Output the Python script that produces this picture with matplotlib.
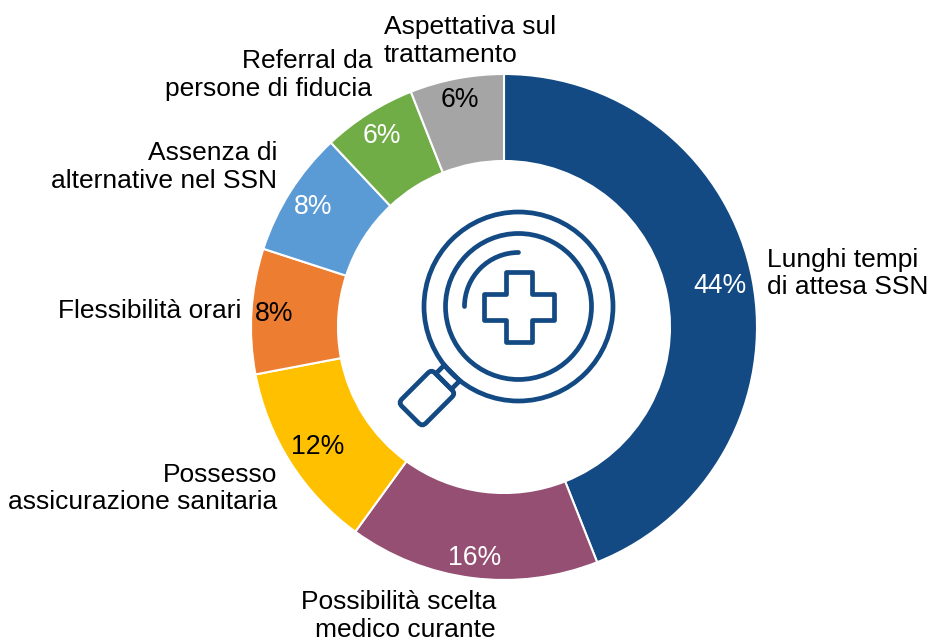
import numpy as np
import matplotlib
matplotlib.use("Agg")
import matplotlib.pyplot as plt
from matplotlib.patches import Circle, Polygon, FancyBboxPatch, Arc
from matplotlib.transforms import Affine2D

plt.rcParams['font.family'] = ['Liberation Sans', 'DejaVu Sans']

labels = ["Lunghi tempi\ndi attesa SSN", "Possibilità scelta\nmedico curante", "Possesso\nassicurazione sanitaria",
          "Flessibilità orari", "Assenza di\nalternative nel SSN", "Referral da\npersone di fiducia",
          "Aspettativa sul\ntrattamento"]
values = [44, 16, 12, 8, 8, 6, 6]
colors = ["#134A83", "#954F72", "#FFC000", "#ED7D31", "#5B9BD5", "#70AD47", "#A5A5A5"]
pct_colors = ["white", "white", "black", "black", "white", "white", "black"]

W, H = 933, 640
navy = "#134A83"
lw_icon = 3.4


def py(y):  # picture rows run downward, the axes upward
    return H - y


fig = plt.figure(figsize=(W/100, H/100), dpi=100)
ax = fig.add_axes([0, 0, 1, 1])

cx, cy, R = 504, py(327), 253
ax.pie(values, colors=colors, startangle=90, counterclock=False, center=(cx, cy), radius=R,
       wedgeprops=dict(width=R-166, edgecolor="white", linewidth=1.5), frame=True)
ax.set_xlim(0, W)
ax.set_ylim(0, H)
ax.set_aspect("equal")
ax.axis("off")

# percent labels
pct_pos = [(720, 286), (475, 558), (318, 447), (274, 314), (313, 207), (382, 136), (460, 100)]
for v, p, c in zip(values, pct_pos, pct_colors):
    ax.text(p[0], py(p[1]), f"{v}%", color=c, fontsize=19.2, ha="center", va="center")

# category labels
label_pos = [(767, 273.5, "left"), (496, 616, "right"), (277, 488.5, "right"), (241, 311, "right"),
             (277, 167, "right"), (372, 75, "right"), (384, 41, "left")]
for t, p in zip(labels, label_pos):
    ax.text(p[0], py(p[1]), t, fontsize=19, ha=p[2], va="center", color="black", linespacing=1.18,
            multialignment=p[2])

# magnifier icon
ix, iy = 518.5, py(306.5)
ax.add_patch(Circle((ix, iy), 94.5, fill=False, ec=navy, lw=lw_icon))
ax.add_patch(Circle((ix, iy), 73, fill=False, ec=navy, lw=lw_icon))
ax.add_patch(Arc((ix, iy), 108, 108, theta1=90, theta2=180, ec=navy, lw=lw_icon, capstyle="round"))
a, b = 35, 13
cross = [(-b, a), (b, a), (b, b), (a, b), (a, -b), (b, -b), (b, -a), (-b, -a), (-b, -b), (-a, -b), (-a, b), (-b, b)]
ax.add_patch(Polygon([(ix+u, iy+v) for u, v in cross], closed=True, fill=False, ec=navy, lw=lw_icon, joinstyle="round"))

# handle, drawn upright then turned to lower left
turn = Affine2D().rotate_deg(-45).translate(ix, iy) + ax.transData
ax.add_patch(FancyBboxPatch((-17, -153), 34, 47, boxstyle="round,pad=0,rounding_size=5", fill=False, ec=navy,
                            lw=lw_icon, transform=turn))
ax.add_patch(FancyBboxPatch((-11, -106), 22, 12, boxstyle="square,pad=0", fill=False, ec=navy, lw=lw_icon, transform=turn))

fig.savefig("out.png", dpi=100)
